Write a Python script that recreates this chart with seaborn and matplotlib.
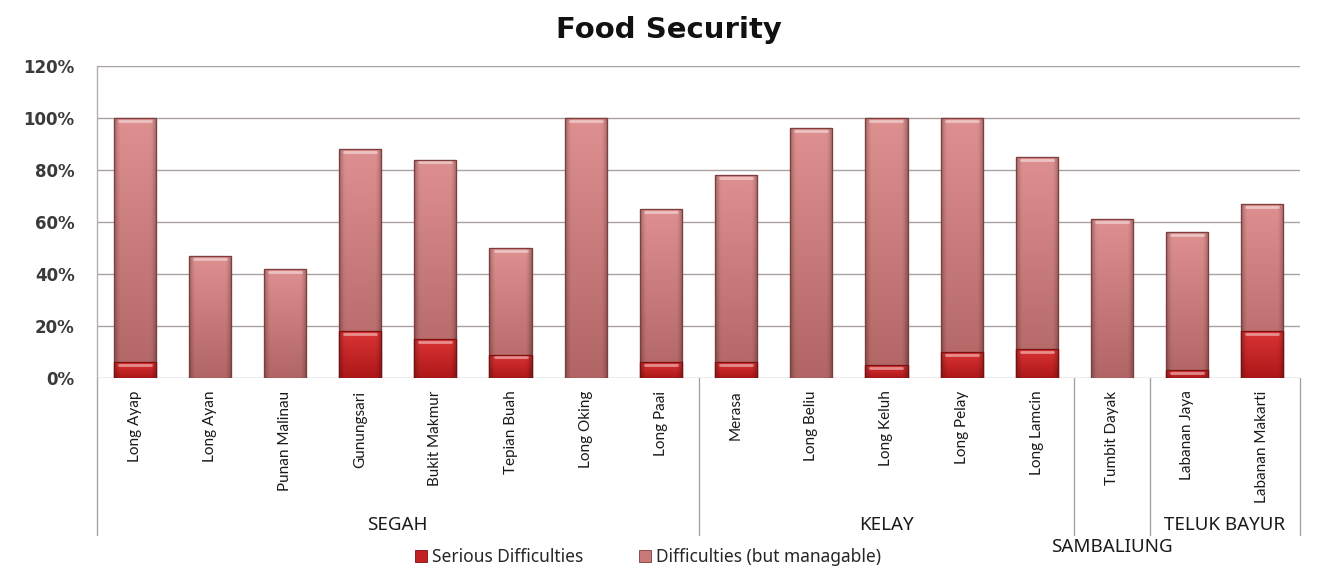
import numpy as np
import pandas as pd
import matplotlib
matplotlib.use("Agg")
import matplotlib.pyplot as plt
from matplotlib.colors import to_rgb
from matplotlib.patches import Patch
from matplotlib.ticker import PercentFormatter
import seaborn as sns

# Villages, grouped by district
villages = ["Long Ayap", "Long Ayan", "Punan Malinau", "Gunungsari", "Bukit Makmur",
            "Tepian Buah", "Long Oking", "Long Paai", "Merasa", "Long Beliu",
            "Long Keluh", "Long Pelay", "Long Lamcin", "Tumbit Dayak",
            "Labanan Jaya", "Labanan Makarti"]
districts = ["SEGAH", "KELAY", "SAMBALIUNG", "TELUK BAYUR"]
district_sizes = [8, 5, 1, 2]

# Share of households (%)
serious = [6, 0, 0, 18, 15, 9, 0, 6, 6, 0, 5, 10, 11, 0, 3, 18]
total = [100, 47, 42, 88, 84, 50, 100, 65, 78, 96, 100, 100, 85, 61, 56, 67]
manageable = [t - s for t, s in zip(total, serious)]

series_names = ["Serious Difficulties", "Difficulties (but managable)"]
y_ticks = [0, 20, 40, 60, 80, 100, 120]

df = pd.DataFrame({"village": villages,
                   "serious": np.array(serious) / 100,
                   "manageable": np.array(manageable) / 100})
df["stack_top"] = df["serious"] + df["manageable"]

sns.set_theme(style="white")
plt.rcParams["font.family"] = ["Noto Sans", "DejaVu Sans"]
label_font = ["Lato", "DejaVu Sans"]
bold_font = ["DejaVu Sans"]

W, H = 1325, 570
fig = plt.figure(figsize=(W / 100, H / 100), dpi=100)
fig.patch.set_facecolor("white")
x0, x1, ytop, ybot = 97, 1300, 66, 378
ax = fig.add_axes([x0 / W, 1 - ybot / H, (x1 - x0) / W, (ybot - ytop) / H])

light_col = "#C97878"
red_col = "#C42024"
edge_light = "#7E3E3E"
edge_red = "#7A1010"
bar_w = 0.56

sns.barplot(data=df, x="village", y="stack_top", order=villages, color=light_col,
            width=bar_w, saturation=1, edgecolor=edge_light, linewidth=0.8, ax=ax)
n_light = len(ax.patches)
sns.barplot(data=df, x="village", y="serious", order=villages, color=red_col,
            width=bar_w, saturation=1, edgecolor=edge_red, linewidth=0.8, ax=ax)


def shade(top, bottom, ny=60, nx=48):
    """Vertical light-to-dark fill with darkened sides."""
    t = np.linspace(0, 1, ny)[:, None, None]  # 0 bottom .. 1 top
    c = (1 - t) * np.array(to_rgb(bottom)) + t * np.array(to_rgb(top))
    u = np.linspace(-1, 1, nx)
    side = 1 - 0.28 * np.clip((np.abs(u) - 0.7) / 0.3, 0, 1) ** 1.5
    img = c * side[None, :, None]
    return np.clip(img, 0, 1)


img_light = shade("#DE9090", "#B26565")
img_red = shade("#DA3434", "#AE1719")

for i, p in enumerate(ax.patches):
    x, y = p.get_x(), p.get_y()
    w, h = p.get_width(), p.get_height()
    if h <= 0:
        continue
    img = img_light if i < n_light else img_red
    im = ax.imshow(img, extent=[x, x + w, y, y + h], aspect="auto",
                   origin="lower", zorder=p.get_zorder() + 0.1, interpolation="bilinear")
    im.set_clip_path(p)
    # light cap highlight at the top of the bar
    ax.plot([x + w * 0.12, x + w * 0.88], [y + h - 0.011, y + h - 0.011],
            color="white", alpha=0.45, lw=2, solid_capstyle="round",
            zorder=p.get_zorder() + 0.2)
    ax.add_patch(plt.Rectangle((x, y), w, h, fill=False, edgecolor=p.get_edgecolor(),
                               lw=0.9, zorder=p.get_zorder() + 0.3))

ax.set_xlim(-0.5, len(villages) - 0.5)
ax.set_ylim(0, 1.2)
ax.set_yticks([v / 100 for v in y_ticks])
ax.yaxis.set_major_formatter(PercentFormatter(1.0, decimals=0))
ax.grid(axis="y", color="#A9A2A0", lw=1)
ax.set_axisbelow(True)
ax.set_xlabel("")
ax.set_ylabel("")
for s in ["top", "right", "bottom"]:
    ax.spines[s].set_visible(False)
ax.spines["left"].set_color("#B8AFAD")
ax.spines["left"].set_linewidth(1)

for lbl in ax.get_yticklabels():
    lbl.set_fontsize(12)
    lbl.set_fontweight("bold")
    lbl.set_family(bold_font)
    lbl.set_color("#3A3A3A")
ax.tick_params(axis="y", length=4, color="#B8AFAD", pad=12)
ax.tick_params(axis="x", length=0, pad=9)
ax.set_xticks(range(len(villages)))
ax.set_xticklabels(villages, rotation=90, va="top", ha="center", fontsize=11,
                   color="#1A1A1A", family=label_font)

# District separators and labels below the axis
trans = ax.get_xaxis_transform()
span = ybot - ytop
sep_depth = -(535 - ybot) / span
bounds = np.concatenate([[0], np.cumsum(district_sizes)])
for b in bounds:
    ax.plot([b - 0.5, b - 0.5], [0, sep_depth], transform=trans, clip_on=False,
            color="#A9A2A0", lw=1)
label_y = {"SAMBALIUNG": -(547 - ybot) / span}
for name, a, b in zip(districts, bounds[:-1], bounds[1:]):
    cx = (a + b - 1) / 2
    yy = label_y.get(name, -(525 - ybot) / span)
    ax.text(cx, yy, name, transform=trans, ha="center", va="center",
            fontsize=13.5, color="#1A1A1A")

fig.text((553 + 785) / 2 / W, 1 - 30 / H, "Food Security", ha="center", va="center",
         fontsize=21, fontweight="bold", family=bold_font, color="#111111")

handles = [Patch(facecolor=red_col, edgecolor=edge_red, lw=0.6),
           Patch(facecolor=light_col, edgecolor=edge_light, lw=0.6)]
fig.legend(handles, series_names, loc="center", bbox_to_anchor=(648 / W, 1 - 557 / H),
           ncol=2, frameon=False, fontsize=12.5, handlelength=0.7, handleheight=0.7,
           handletextpad=0.3, columnspacing=3.2)

fig.savefig("out.png", dpi=100, facecolor="white")
